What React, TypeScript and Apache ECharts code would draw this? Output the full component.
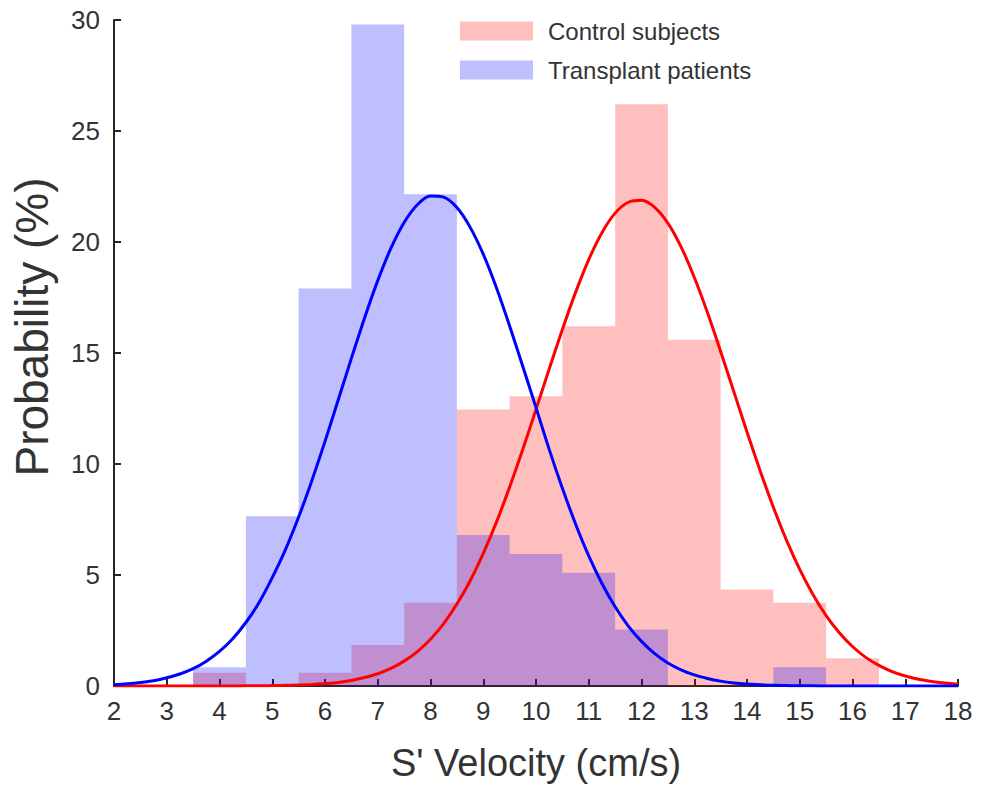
import React, { useEffect, useRef } from "react";
import * as echarts from "echarts";

// Histogram bins (centre of 1 cm/s wide bins) and probabilities (%)
const binCenters = [4, 5, 6, 7, 8, 9, 10, 11, 12, 13, 14, 15, 16];
const controlPct = [0.6, 0, 0.6, 1.85, 3.75, 12.45, 13.05, 16.2, 26.2, 15.6, 4.35, 3.75, 1.25];
const transplantPct = [0.85, 7.65, 17.9, 29.8, 22.15, 6.8, 5.95, 5.1, 2.55, 0, 0, 0.85, 0];

// Fitted curves every 0.25 cm/s
const curveX = [
  2, 2.25, 2.5, 2.75, 3, 3.25, 3.5, 3.75, 4, 4.25, 4.5, 4.75, 5, 5.25, 5.5, 5.75,
  6, 6.25, 6.5, 6.75, 7, 7.25, 7.5, 7.75, 8, 8.25, 8.5, 8.75, 9, 9.25, 9.5, 9.75,
  10, 10.25, 10.5, 10.75, 11, 11.25, 11.5, 11.75, 12, 12.25, 12.5, 12.75, 13, 13.25, 13.5, 13.75,
  14, 14.25, 14.5, 14.75, 15, 15.25, 15.5, 15.75, 16, 16.25, 16.5, 16.75, 17, 17.25, 17.5, 17.75, 18,
];
const controlFit = [
  0, 0, 0, 0, 0, 0, 0, 0, 0, 0, 0.01, 0.01, 0.02, 0.03, 0.04, 0.07,
  0.11, 0.16, 0.25, 0.38, 0.55, 0.79, 1.12, 1.55, 2.11, 2.81, 3.69, 4.73, 5.97, 7.38, 8.96, 10.66,
  12.46, 14.28, 16.06, 17.73, 19.21, 20.42, 21.3, 21.79, 21.88, 21.56, 20.85, 19.78, 18.41, 16.82, 15.07, 13.26,
  11.44, 9.69, 8.05, 6.56, 5.25, 4.12, 3.17, 2.4, 1.78, 1.29, 0.93, 0.65, 0.45, 0.3, 0.2, 0.13, 0.08,
];
const transplantFit = [
  0.06, 0.1, 0.16, 0.24, 0.37, 0.54, 0.78, 1.12, 1.56, 2.13, 2.86, 3.76, 4.88, 6.14, 7.61, 9.25,
  11.02, 12.88, 14.76, 16.58, 18.26, 19.72, 20.88, 21.68, 22.07, 22.02, 21.55, 20.67, 19.45, 17.94, 16.22, 14.39,
  12.54, 10.66, 8.91, 7.3, 5.86, 4.62, 3.57, 2.7, 2.01, 1.46, 1.04, 0.73, 0.5, 0.34, 0.22, 0.14,
  0.09, 0.06, 0.03, 0.02, 0.01, 0.01, 0, 0, 0, 0, 0, 0, 0, 0, 0, 0, 0,
];

const FONT = "'Liberation Sans', Helvetica, Arial, sans-serif";
const AXIS_COLOR = "#262626";
const TEXT_COLOR = "#333333";
const RED_FILL = "rgba(255,0,0,0.25)";
const BLUE_FILL = "rgba(0,0,255,0.25)";

function histRender(params: any, api: any) {
  const x = api.value(0);
  const h = api.value(1);
  if (!h) return null;
  const p0 = api.coord([x - 0.5, h]);
  const p1 = api.coord([x + 0.5, 0]);
  return {
    type: "rect",
    shape: { x: p0[0], y: p0[1], width: p1[0] - p0[0], height: p1[1] - p0[1] },
    style: { fill: api.visual("color") },
  };
}

export default function App() {
  const ref = useRef<HTMLDivElement>(null);
  useEffect(() => {
    if (!ref.current) return;
    const chart = echarts.init(ref.current, undefined, { renderer: "svg" });
    chart.setOption({
      animation: false,
      backgroundColor: "#ffffff",
      textStyle: { fontFamily: FONT },
      grid: { left: 114, top: 20, width: 844, height: 666, containLabel: false },
      legend: {
        orient: "vertical",
        left: 460,
        top: 19,
        padding: 0,
        itemWidth: 73,
        itemHeight: 19,
        itemGap: 15,
        icon: "rect",
        selectedMode: false,
        data: ["Control subjects", "Transplant patients"],
        textStyle: { fontFamily: FONT, fontSize: 24, color: TEXT_COLOR, padding: [0, 0, 0, 10] },
      },
      xAxis: {
        type: "value",
        min: 2,
        max: 18,
        interval: 1,
        name: "S' Velocity (cm/s)",
        nameLocation: "middle",
        nameGap: 58,
        nameTextStyle: { fontFamily: FONT, fontSize: 38, color: TEXT_COLOR },
        axisLine: { show: true, onZero: false, lineStyle: { color: AXIS_COLOR, width: 2 } },
        axisTick: { show: true, inside: true, length: 7, lineStyle: { color: AXIS_COLOR, width: 2 } },
        axisLabel: { fontFamily: FONT, fontSize: 26, color: TEXT_COLOR, margin: 12 },
        splitLine: { show: false },
      },
      yAxis: {
        type: "value",
        min: 0,
        max: 30,
        interval: 5,
        axisLine: { show: true, lineStyle: { color: AXIS_COLOR, width: 2 } },
        axisTick: { show: true, inside: true, length: 7, lineStyle: { color: AXIS_COLOR, width: 2 } },
        axisLabel: { fontFamily: FONT, fontSize: 26, color: TEXT_COLOR, margin: 14 },
        splitLine: { show: false },
      },
      graphic: [
        {
          type: "text",
          x: 32,
          y: 327,
          rotation: Math.PI / 2,
          style: {
            text: "Probability (%)",
            fontFamily: FONT,
            fontSize: 46,
            fill: TEXT_COLOR,
            align: "center",
            verticalAlign: "middle",
          },
        },
      ],
      series: [
        {
          name: "Control subjects",
          type: "custom",
          renderItem: histRender,
          itemStyle: { color: RED_FILL },
          encode: { x: 0, y: 1 },
          data: binCenters.map((c, i) => [c, controlPct[i]]),
          z: 2,
        },
        {
          name: "Transplant patients",
          type: "custom",
          renderItem: histRender,
          itemStyle: { color: BLUE_FILL },
          encode: { x: 0, y: 1 },
          data: binCenters.map((c, i) => [c, transplantPct[i]]),
          z: 2,
        },
        {
          name: "Control fit",
          type: "line",
          smooth: 0.3,
          showSymbol: false,
          symbol: "none",
          lineStyle: { color: "#ff0000", width: 3 },
          itemStyle: { color: "#ff0000" },
          data: curveX.map((x, i) => [x, controlFit[i]]),
          z: 3,
        },
        {
          name: "Transplant fit",
          type: "line",
          smooth: 0.3,
          showSymbol: false,
          symbol: "none",
          lineStyle: { color: "#0000ff", width: 3 },
          itemStyle: { color: "#0000ff" },
          data: curveX.map((x, i) => [x, transplantFit[i]]),
          z: 3,
        },
      ],
    });
    return () => chart.dispose();
  }, []);
  return (
    <div
      ref={ref}
      style={{ position: "fixed", left: 0, top: 0, width: 982, height: 789, background: "#fff" }}
    />
  );
}
